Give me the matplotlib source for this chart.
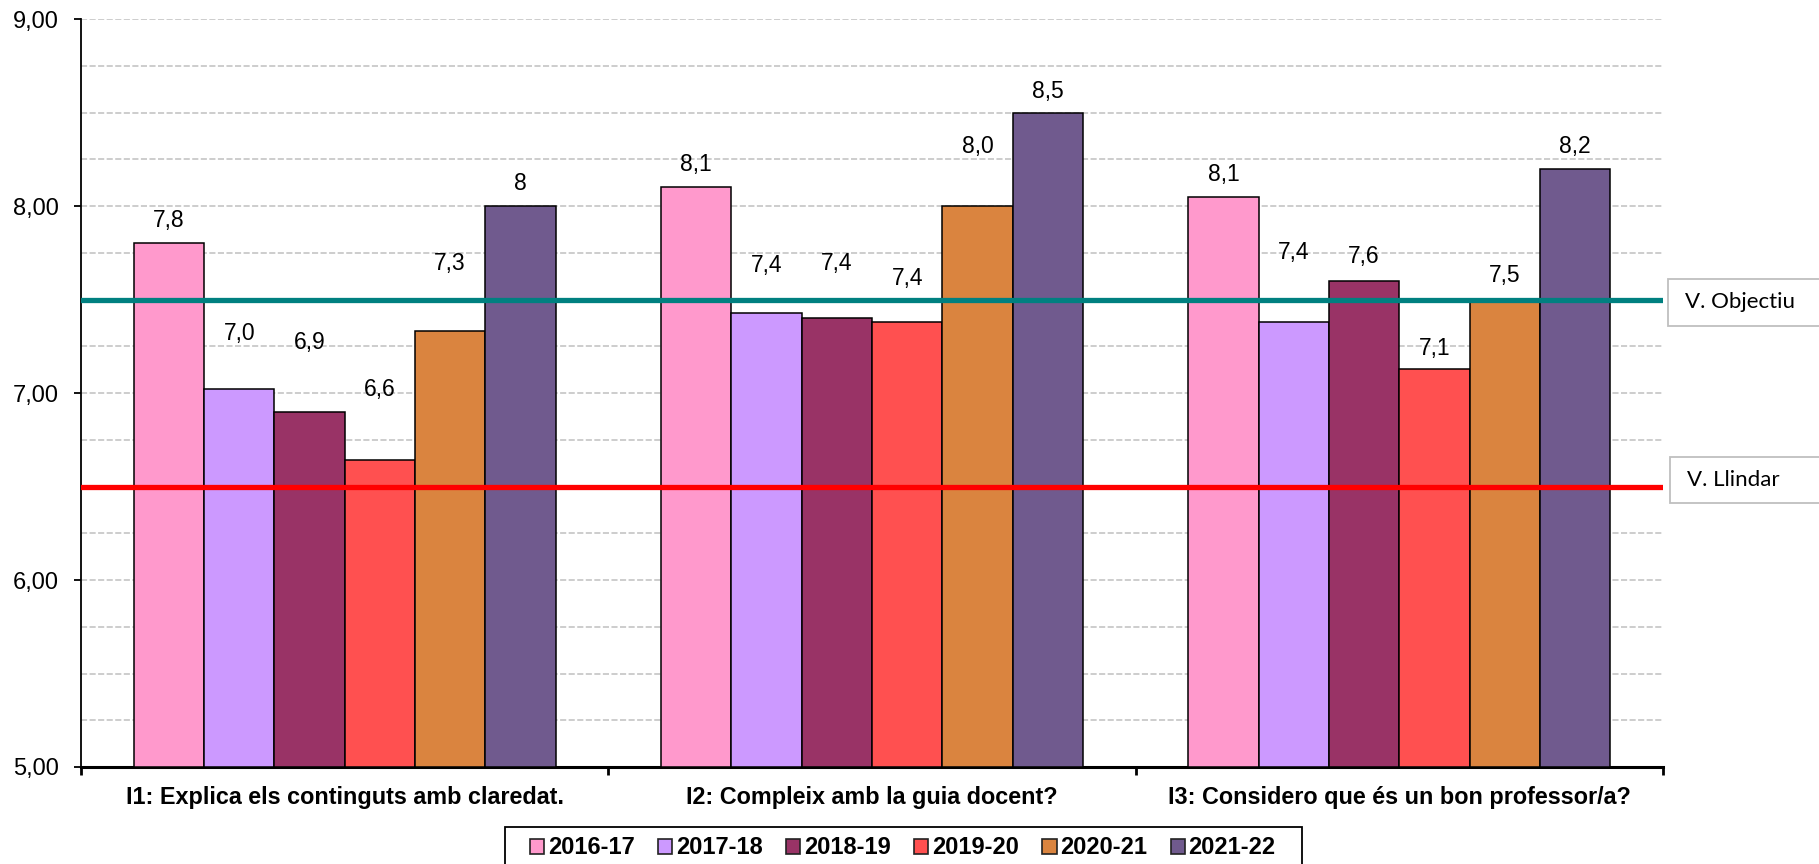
import matplotlib
matplotlib.use("Agg")
import matplotlib.pyplot as plt
from matplotlib.ticker import MultipleLocator, FixedLocator, FuncFormatter
from matplotlib.patches import Rectangle, Patch
import numpy as np

plt.rcParams['font.family'] = ['Liberation Sans', 'DejaVu Sans']

# ---------------- data ----------------
categories = ["I1: Explica els continguts amb claredat.",
              "I2: Compleix amb la guia docent?",
              "I3: Considero que és un bon professor/a?"]
series_names = ["2016-17", "2017-18", "2018-19", "2019-20", "2020-21", "2021-22"]
v_2016_17 = [7.80, 8.10, 8.05]
v_2017_18 = [7.02, 7.43, 7.38]
v_2018_19 = [6.90, 7.40, 7.60]
v_2019_20 = [6.64, 7.38, 7.13]
v_2020_21 = [7.33, 8.00, 7.49]
v_2021_22 = [8.00, 8.50, 8.20]
series_values = [v_2016_17, v_2017_18, v_2018_19, v_2019_20, v_2020_21, v_2021_22]

labels_2016_17 = ["7,8", "8,1", "8,1"]
labels_2017_18 = ["7,0", "7,4", "7,4"]
labels_2018_19 = ["6,9", "7,4", "7,6"]
labels_2019_20 = ["6,6", "7,4", "7,1"]
labels_2020_21 = ["7,3", "8,0", "7,5"]
labels_2021_22 = ["8", "8,5", "8,2"]
series_labels = [labels_2016_17, labels_2017_18, labels_2018_19,
                 labels_2019_20, labels_2020_21, labels_2021_22]

objective_value = 7.5
threshold_value = 6.5
objective_text = "V. Objectiu"
threshold_text = "V. Llindar"

# ---------------- style / positions ----------------
colors = ["#FF99CC", "#CC99FF", "#993366", "#FF5050", "#DA843F", "#705A8E"]
# vertical centre of each data label (the source places them by hand)
label_y_pos = [
    [7.925, 8.22, 8.17],
    [7.32, 7.68, 7.75],
    [7.27, 7.69, 7.73],
    [7.02, 7.61, 7.24],
    [7.69, 8.32, 7.63],
    [8.12, 8.61, 8.32],
]

W, H = 1819, 864
fig = plt.figure(figsize=(W / 100, H / 100), dpi=100)
ax = fig.add_axes([81 / W, 1 - 767 / H, (1663 - 81) / W, (767 - 19) / H])

n = len(series_values)
group_w = 0.8
bw = group_w / n
x = np.arange(len(categories)) + 0.5
for j, (vals, col) in enumerate(zip(series_values, colors)):
    xs = x + (j - (n - 1) / 2) * bw
    ax.bar(xs, np.array(vals) - 5, bottom=5, width=bw, color=col,
           edgecolor="black", linewidth=1.1, zorder=3)
    for xi, lab, ly in zip(xs, series_labels[j], label_y_pos[j]):
        ax.text(xi, ly, lab, ha="center", va="center", fontsize=16.5,
                color="black", zorder=6)

ax.axhline(objective_value, color="#008080", lw=3.8, zorder=5)
ax.axhline(threshold_value, color="#FF0000", lw=3.8, zorder=5)

ax.set_xlim(0, 3)
ax.set_ylim(5, 9)
ax.yaxis.set_major_locator(MultipleLocator(1))
ax.yaxis.set_minor_locator(MultipleLocator(0.25))
ax.yaxis.set_major_formatter(FuncFormatter(lambda v, p: f"{v:.2f}".replace(".", ",")))
ax.grid(which="both", axis="y", color="#C0C0C0", lw=1.1, ls=(0, (4, 1.6)), zorder=0)
ax.set_axisbelow(True)
ax.tick_params(axis="y", which="major", direction="out", length=5, width=1.3,
               labelsize=17, pad=11)
ax.tick_params(axis="y", which="minor", length=0)

ax.xaxis.set_major_locator(FixedLocator([0, 1, 2, 3]))
ax.xaxis.set_minor_locator(FixedLocator(list(x)))
ax.set_xticklabels([])
ax.set_xticklabels(categories, minor=True, fontsize=16.8, fontweight="bold")
ax.tick_params(axis="x", which="major", direction="out", length=6, width=2)
ax.tick_params(axis="x", which="minor", length=0, pad=14)

for s in ["top", "right"]:
    ax.spines[s].set_visible(False)
ax.spines["left"].set_linewidth(1.3)
ax.spines["bottom"].set_linewidth(2.2)

# side labels
for (bx, y0, y1, tx, ty, txt) in [(1668, 279, 326, 1685, 302.5, objective_text),
                                  (1670, 457, 503, 1687, 480, threshold_text)]:
    fig.patches.append(Rectangle((bx / W, 1 - y1 / H), 0.2, (y1 - y0) / H,
                                 transform=fig.transFigure, facecolor="white",
                                 edgecolor="#BFBFBF", lw=1.3))
    fig.text(tx / W, 1 - ty / H, txt, ha="left", va="center", fontsize=16,
             family=["Lato", "DejaVu Sans"], color="black")

# legend
fig.patches.append(Rectangle((505 / W, 1 - 880 / H), (1302 - 505) / W, (880 - 827) / H,
                             transform=fig.transFigure, facecolor="white",
                             edgecolor="black", lw=1.3, zorder=1))
handles = [Patch(facecolor=c, edgecolor="#222222", lw=1.2) for c in colors]
leg = fig.legend(handles, series_names, loc="center left",
                 bbox_to_anchor=(530 / W, 1 - 848 / H), ncol=6, frameon=False,
                 prop={"weight": "bold", "size": 17},
                 handlelength=0.6, handleheight=0.6, handletextpad=0.15,
                 columnspacing=1.0, borderpad=0, borderaxespad=0)
leg.set_zorder(3)

fig.savefig("out.png", dpi=100)
